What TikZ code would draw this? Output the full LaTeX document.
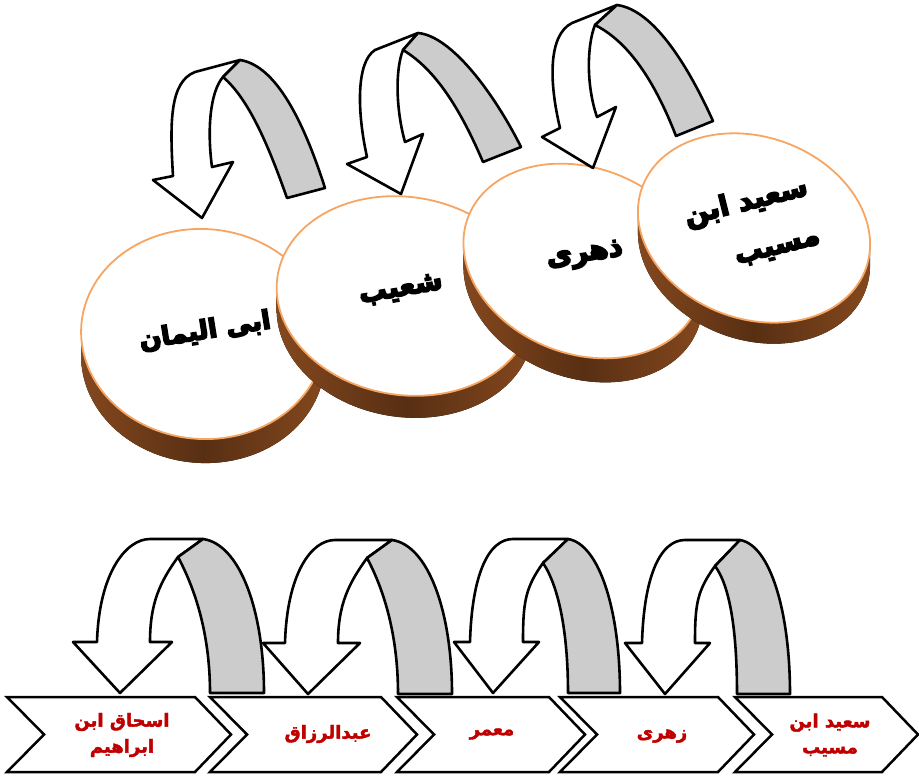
\documentclass[tikz,border=0pt]{standalone}
\usepackage{fontspec}
\newfontfamily\arabicfont[Script=Arabic, BoldFeatures={FakeBold=2.2}]{DejaVu Sans}
\newfontfamily\discfont[Script=Arabic, BoldFeatures={FakeBold=6}]{DejaVu Sans}
\TeXXeTstate=1
\definecolor{sideedge}{RGB}{132,72,30}
\definecolor{sidemid}{RGB}{88,47,19}
\definecolor{rim}{RGB}{247,165,98}
\definecolor{grayband}{RGB}{204,204,204}
\definecolor{darkred}{RGB}{192,0,0}
\tikzset{
  arrowline/.style={draw=black, line width=2.6, line join=round},
  whitepart/.style={arrowline, fill=white},
  graypart/.style={arrowline, fill=grayband},
  chev/.style={draw=black, line width=2.5, fill=white, line join=miter},
  face/.style={fill=white, draw=rim, line width=1.8},
  disctext/.style={font=\discfont\bfseries\fontsize{28}{50}\selectfont, text=black, inner sep=0pt},
  chevtext/.style={font=\arabicfont\bfseries\fontsize{18}{26}\selectfont, text=darkred, inner sep=0pt, align=center}
}
\begin{document}
\begin{tikzpicture}[x=1pt,y=-1pt]
\useasboundingbox (0,0) rectangle (919,777);

% ---------- discs ----------
\foreach \cx/\cy/\ra/\rb/\ph/\hh in {203/334/122/105/4/24, 405/296/129/99/9/22, 583/261/123/93/21/24, 754/228/119/91/20/21} {
  \pgfmathsetmacro\tz{atan(-(\rb/\ra)*tan(\ph))}
  \pgfmathsetmacro\tm{\tz+180}
  \pgfmathsetmacro\te{\tz+360}
  \fill[left color=sideedge, right color=sideedge, middle color=sidemid]
    plot[domain=\tz:\tm, samples=90, variable=\t]
      ({\cx+\ra*cos(\t)*cos(\ph)-\rb*sin(\t)*sin(\ph)}, {\cy+\hh+\ra*cos(\t)*sin(\ph)+\rb*sin(\t)*cos(\ph)})
    -- plot[domain=\tm:\te, samples=90, variable=\t]
      ({\cx+\ra*cos(\t)*cos(\ph)-\rb*sin(\t)*sin(\ph)}, {\cy+\ra*cos(\t)*sin(\ph)+\rb*sin(\t)*cos(\ph)})
    -- cycle;
  \filldraw[face] plot[domain=0:360, samples=150, variable=\t]
      ({\cx+\ra*cos(\t)*cos(\ph)-\rb*sin(\t)*sin(\ph)}, {\cy+\ra*cos(\t)*sin(\ph)+\rb*sin(\t)*cos(\ph)}) -- cycle;
}

\node[disctext, rotate=9, font=\discfont\bfseries\fontsize{26}{40}\selectfont] (d1) at (205,331) {\beginR ابی الیمان\endR};
\node[disctext, rotate=10] (d2) at (401,290) {\beginR شعیب\endR};
\node[disctext, rotate=8] (d3) at (585,256) {\beginR ذهری\endR};
\node[disctext, rotate=14, align=right] (d4) at (752,226) {\beginR سعید ابن\endR\\\beginR مسیب\endR};

% ---------- top arrows ----------
\filldraw[whitepart] (173,176) .. controls (170,125) and (169,82) .. (195,72) -- (240,60) -- (223,77) .. controls (210,92) and (207,130) .. (212,167) -- (233,162) -- (202,218) -- (153,180) -- cycle;
\filldraw[graypart] (240,60) .. controls (280,66) and (308,135) .. (325,188) -- (287,198) .. controls (270,150) and (250,100) .. (223,77) -- cycle;

\filldraw[whitepart] (367,157) .. controls (357,112) and (356,62) .. (375,50) -- (418,33) -- (403,50) .. controls (395,70) and (396,110) .. (405,142) -- (423,134) -- (401,194) -- (347,164) -- cycle;
\filldraw[graypart] (418,33) .. controls (452,36) and (495,95) .. (521,147) -- (483,162) .. controls (465,120) and (440,72) .. (403,50) -- cycle;

\filldraw[whitepart] (560,128) .. controls (549,82) and (548,35) .. (572,23) -- (617,5) -- (595,25) .. controls (587,45) and (586,85) .. (597,117) -- (616,107) -- (593,168) -- (542,137) -- cycle;
\filldraw[graypart] (617,5) .. controls (655,10) and (690,70) .. (713,121) -- (676,136) .. controls (660,95) and (635,45) .. (595,25) -- cycle;

% ---------- chevrons ----------
\foreach \L/\R in {7/195, 210/381, 397/549, 560/718, 735/882} {
  \draw[chev] (\L,697) -- (\R,697) -- (\R+36,734.5) -- (\R,772) -- (\L,772) -- (\L+37,734.5) -- cycle;
}

\node[chevtext] (c1) at (122,735) {\beginR اسحاق ابن\endR\\\beginR ابراهیم\endR};
\node[chevtext] (c2) at (328,734) {\beginR عبدالرزاق\endR};
\node[chevtext] (c3) at (492,734) {\beginR معمر\endR};
\node[chevtext] (c4) at (662,736) {\beginR زهری\endR};
\node[chevtext] (c5) at (830,735) {\beginR سعید ابن\endR\\\beginR مسیب\endR};

% ---------- bottom arrows ----------
\foreach \Tx/\Ty/\Hl/\Hr/\Ql/\Qr/\Fx/\Fy/\Gi/\Go in {
   120/693/-47/52/30/83/58/-136/90/144,
   308/694/-45/52/27/84/59/-136/90/144,
   493/693/-39/46/20/75/50/-130/75/127,
   665/694/-40/45/20/75/50/-128/72/125} {
  \begin{scope}[shift={(\Tx,\Ty)}]
    \pgfmathsetmacro\Cx{\Qr+0.6*(\Go-\Qr)}
    \filldraw[whitepart] (-23,-51) .. controls (-21,-120) and (\Ql-24,-154) .. (\Ql,-154) -- (\Qr,-154) -- (\Fx,\Fy)
       .. controls (\Fx-18,\Fy+25) and (30,-90) .. (30,-51) -- (\Hr,-51) -- (0,0) -- (\Hl,-51) -- cycle;
    \filldraw[graypart] (\Qr,-154) .. controls (\Cx,-149) and (\Go,-83) .. (\Go,0) -- (\Gi,0)
       .. controls (\Gi,-63) and (\Fx+15,-108) .. (\Fx,\Fy) -- cycle;
  \end{scope}
}
\end{tikzpicture}
\end{document}
